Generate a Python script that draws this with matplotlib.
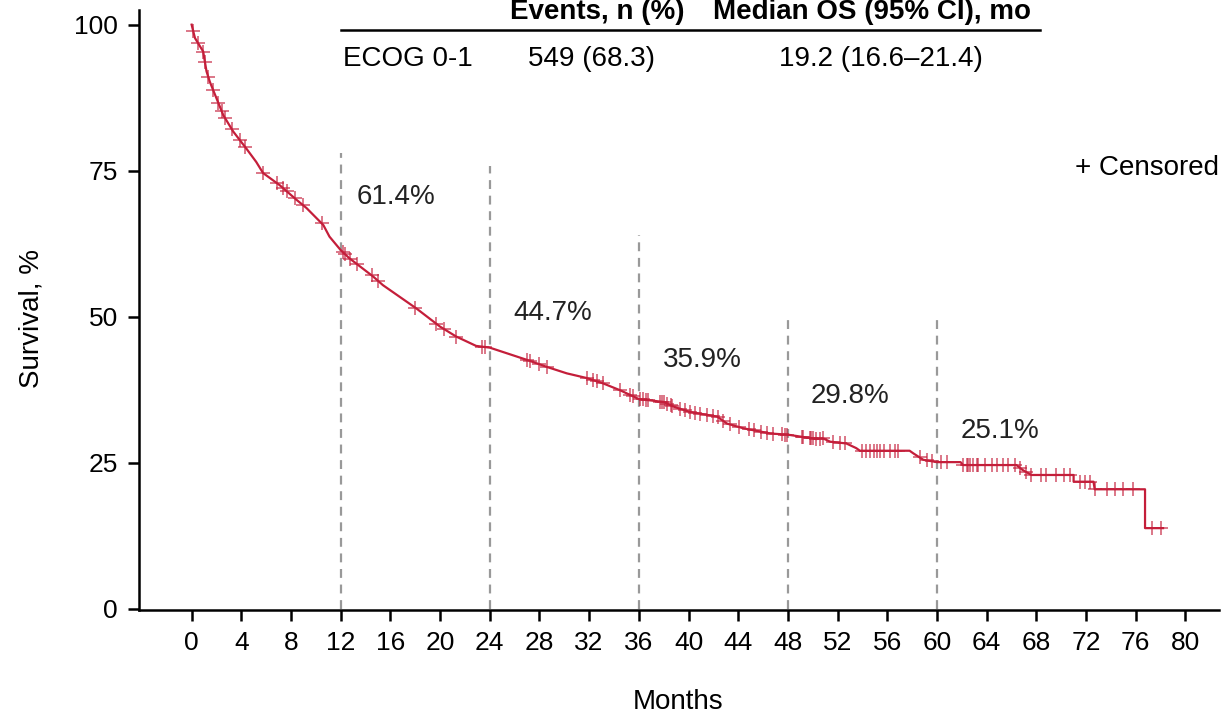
import numpy as np
import matplotlib
matplotlib.use("Agg")
import matplotlib.pyplot as plt
from matplotlib.lines import Line2D

plt.rcParams['font.family'] = ['Liberation Sans', 'DejaVu Sans']

# Kaplan-Meier overall survival, ECOG 0-1 (months, survival %)
km_months = [0, 0.27, 0.93, 1.2, 1.47, 2.0, 2.55, 3.35, 4.4, 5.2, 5.75, 7.1, 8.45,
             9.25, 10.6, 11.1, 12.0, 12.7, 14.6, 15.4, 18.1, 20.0, 21.3, 22.9, 24.0,
             27.0, 28.6, 30.2, 31.8, 33.1, 34.5, 36.0, 38.0, 38.8, 40.1, 42.3, 43.1,
             44.4, 46.6, 48.0, 50.3, 50.8, 51.4, 52.7, 53.5, 53.8, 57.8, 58.1, 58.9,
             60.0, 61.9, 62.1, 66.4, 66.9, 67.6, 71.0, 71.0, 72.6, 72.7, 76.75, 76.75,
             78.2]
km_surv = [100, 97.7, 95.4, 92.0, 90.2, 87.4, 84.5, 81.7, 78.8, 76.5, 74.6, 72.5, 70.0,
           68.6, 65.7, 63.7, 61.4, 60.0, 56.9, 55.4, 51.4, 48.3, 46.6, 45.0, 44.7,
           42.6, 41.4, 40.3, 39.5, 38.6, 37.4, 35.9, 35.4, 34.6, 33.7, 32.9, 31.7,
           30.9, 30.0, 29.8, 29.05, 29.2, 28.6, 28.3, 27.5, 27.05, 27.05, 26.6, 25.5,
           25.1, 25.1, 24.6, 24.6, 23.75, 22.9, 22.9, 21.75, 21.75, 20.45, 20.45, 13.8,
           13.8]

# Censoring times (months)
censor_months = [0.13, 0.53, 0.93, 1.07, 1.34, 1.74, 2.14, 2.42, 2.68, 3.22, 3.89, 4.29,
                 5.77, 6.84, 7.38, 7.65, 8.32, 8.99, 10.47, 12.2, 12.34, 12.75, 13.3,
                 14.5, 15.0, 18.0, 19.7, 20.3, 21.3, 23.35, 23.6, 27.0, 27.2, 28.0,
                 28.6, 31.8, 32.3, 32.6, 33.1, 34.5, 35.3, 35.5, 36.1, 36.3, 36.6, 36.7,
                 37.7, 37.9, 38.0, 38.3, 38.6, 38.7, 39.3, 39.7, 40.1, 40.5, 40.9, 41.5,
                 42.0, 42.4, 42.8, 43.3, 44.1, 44.9, 45.3, 45.8, 46.3, 46.8, 47.5, 47.8,
                 47.9, 49.1, 49.2, 49.8, 49.9, 50.0, 50.3, 50.6, 50.8, 51.6, 52.2, 52.6,
                 54.0, 54.3, 54.6, 54.9, 55.2, 55.4, 55.7, 56.2, 56.6, 56.9, 58.6, 59.2,
                 59.6, 60.3, 60.8, 62.1, 62.4, 62.5, 62.7, 62.9, 63.2, 63.3, 63.9, 64.4,
                 64.8, 65.3, 65.7, 66.3, 66.7, 67.2, 67.6, 68.4, 68.8, 69.6, 70.2, 70.7,
                 71.5, 71.9, 72.3, 72.7, 73.7, 74.3, 75.0, 75.8, 77.3, 78.0]

# Landmark survival rates
landmark_months = [12, 24, 36, 48, 60]
landmark_rates = [61.4, 44.7, 35.9, 29.8, 25.1]

x_ticks = list(range(0, 81, 4))
y_ticks = [0, 25, 50, 75, 100]

table_header = ["Events, n (%)", "Median OS (95% CI), mo"]
table_row = ["ECOG 0-1", "549 (68.3)", "19.2 (16.6\u201321.4)"]

curve_color = "#C41E3A"
fs_tick = 19
fs = 20

fig = plt.figure(figsize=(12.22, 7.17), dpi=100)
ax = fig.add_axes([0.1137, 0.1492, 0.8838, 0.8368])

# landmark reference lines
vline_tops = [78.0, 75.8, 64.0, 49.8, 49.8]
label_offsets = [(1.3, 9.1), (1.9, 5.9), (1.9, 6.7), (1.8, 6.6), (1.9, 5.3)]
for m, r, top, (dx, dy) in zip(landmark_months, landmark_rates, vline_tops, label_offsets):
    ax.plot([m, m], [0, top], color="#999999", lw=1.6, ls=(0, (4, 3)), zorder=1)
    ax.text(m + dx, r + dy, f"{r:.1f}%", fontsize=fs, ha="left", va="center", color="#222222")

# survival curve
ax.plot(km_months, km_surv, color=curve_color, lw=1.6, zorder=3)
cens_y = np.interp(censor_months, km_months, km_surv)
ax.plot(censor_months, cens_y, ls="none", marker="+", markersize=10, mew=1.2,
        color=curve_color, alpha=0.7, zorder=2)

ax.set_xlim(-4.24, 82.7)
ax.set_ylim(-0.22, 102.5)
ax.set_xticks(x_ticks)
ax.set_yticks(y_ticks)
ax.tick_params(axis="both", labelsize=fs_tick, length=8, width=1.8, pad=7, direction="out")
for side in ("top", "right"):
    ax.spines[side].set_visible(False)
for side in ("left", "bottom"):
    ax.spines[side].set_linewidth(1.8)

ax.set_xlabel("Months", fontsize=fs, va="center")
ax.set_ylabel("Survival, %", fontsize=fs, va="center")
ax.xaxis.set_label_coords((678 - 139) / 1080, (610 - 702) / 600, transform=ax.transAxes)
ax.yaxis.set_label_coords(-(139 - 32) / 1080, (610 - 318) / 600, transform=ax.transAxes)

# summary table
W, H = 1222, 717
fig.text(597 / W, 1 - 12 / H, table_header[0], fontsize=fs, fontweight="bold", ha="center", va="center")
fig.text(872 / W, 1 - 12 / H, table_header[1], fontsize=fs, fontweight="bold", ha="center", va="center")
fig.add_artist(Line2D([341 / W, 1040 / W], [1 - 30 / H, 1 - 30 / H], color="black", lw=1.8))
fig.text(343 / W, 1 - 59 / H, table_row[0], fontsize=fs, ha="left", va="center")
fig.text(592 / W, 1 - 59 / H, table_row[1], fontsize=fs, ha="center", va="center")
fig.text(881 / W, 1 - 59 / H, table_row[2], fontsize=fs, ha="center", va="center")

fig.text(1075 / W, 1 - 168 / H, "+ Censored", fontsize=fs, ha="left", va="center")

fig.savefig("out.png", dpi=100)
